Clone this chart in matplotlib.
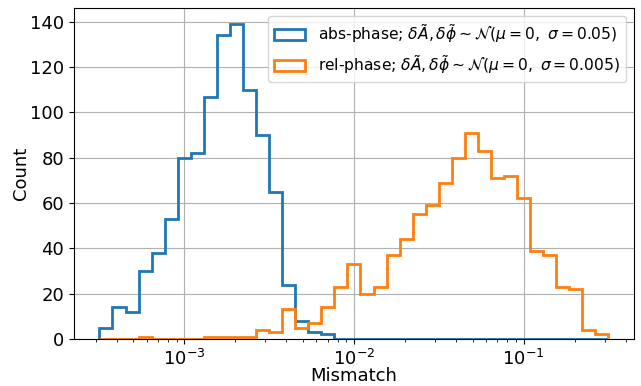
import numpy as np
import matplotlib
matplotlib.use('Agg')
import matplotlib.pyplot as plt

# log-spaced bin edges shared by both histograms
bin_edges = np.logspace(-3.5, -0.5, 40)

# counts per bin
abs_counts = [5, 14, 12, 30, 38, 53, 80, 82, 107, 134, 139, 110, 90, 65, 24, 8, 3, 2,
              0, 0, 0, 0, 0, 0, 0, 0, 0, 0, 0, 0, 0, 0, 0, 0, 0, 0, 0, 0, 0]
rel_counts = [0, 0, 0, 1, 0, 0, 0, 0, 1, 1, 1, 1, 4, 3, 13, 5, 7, 14, 23, 33,
              20, 23, 37, 44, 55, 59, 69, 80, 91, 83, 71, 72, 62, 39, 37, 23, 22, 4, 2]

abs_label = r'abs-phase; $\delta\tilde{A}, \delta\tilde{\phi} \sim \mathcal{N}(\mu=0,\ \sigma=0.05)$'
rel_label = r'rel-phase; $\delta\tilde{A}, \delta\tilde{\phi} \sim \mathcal{N}(\mu=0,\ \sigma=0.005)$'

centers = np.sqrt(bin_edges[:-1] * bin_edges[1:])

fig, ax = plt.subplots(figsize=(6.41, 3.86), dpi=100)
ax.hist(centers, bins=bin_edges, weights=abs_counts, histtype='step', linewidth=2,
        label=abs_label)
ax.hist(centers, bins=bin_edges, weights=rel_counts, histtype='step', linewidth=2,
        label=rel_label)
ax.set_xscale('log')
ax.grid(True)
ax.set_xlabel('Mismatch', fontsize=13, labelpad=-1)
ax.set_ylabel('Count', fontsize=13, labelpad=0)
ax.tick_params(labelsize=13)
ax.legend(loc='upper right', fontsize=11.2)

fig.subplots_adjust(left=0.1154, right=0.989, bottom=0.122, top=0.9785)
fig.savefig('out.png')
